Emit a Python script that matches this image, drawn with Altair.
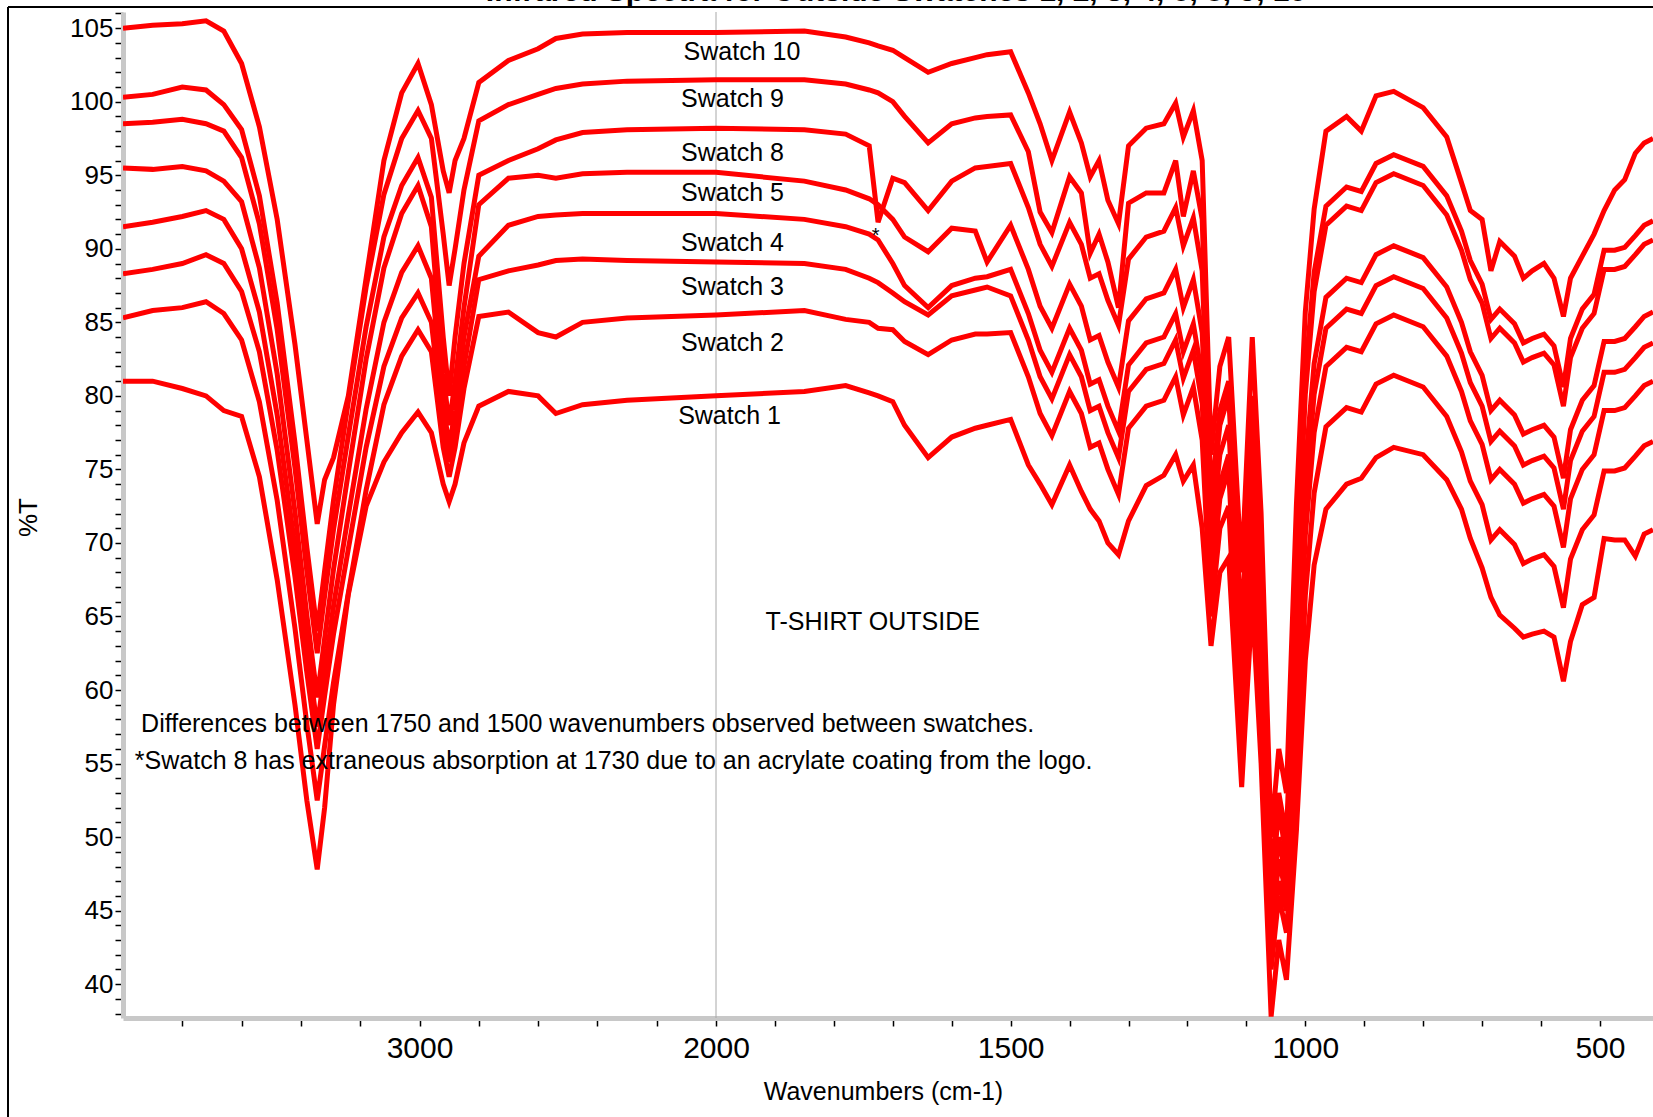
import altair as alt
import pandas as pd

# ---------------- data ----------------
WN = [4000, 3900, 3800, 3720, 3660, 3600, 3540, 3480, 3420, 3380,
      3345, 3320, 3290, 3240, 3180, 3120, 3060, 3005, 2960, 2920,
      2900, 2880, 2850, 2800, 2700, 2600, 2540, 2450, 2300, 2000,
      1850, 1780, 1740, 1725, 1700, 1680, 1640, 1600, 1560, 1540,
      1500, 1470, 1450, 1430, 1400, 1380, 1365, 1350, 1335, 1317,
      1300, 1270, 1240, 1220, 1207, 1190, 1175, 1160, 1145, 1130,
      1108, 1090, 1075, 1058, 1045, 1032, 1015, 1000, 985, 965,
      930, 905, 880, 850, 800, 760, 735, 720, 700, 685,
      670, 645, 630, 615, 595, 578, 562, 550, 530, 510,
      493, 475, 458, 440, 425, 410]

S10 = [105.0, 105.2, 105.3, 105.5, 104.8, 102.6, 98.3, 92.0, 83.5, 77.0,
       71.3, 74.3, 75.8, 80.0, 88.0, 96.0, 100.6, 102.6, 99.8, 95.3,
       93.8, 96.0, 97.5, 101.3, 102.8, 103.6, 104.3, 104.6, 104.7, 104.7,
       104.8, 104.4, 104.0, 103.8, 103.5, 103.0, 102.0, 102.6, 103.0, 103.2,
       103.4, 100.6, 98.5, 96.0, 99.3, 97.2, 94.9, 96.0, 93.3, 91.7,
       97.0, 98.2, 98.5, 99.9, 97.6, 99.4, 96.0, 76.0, 82.0, 84.0,
       68.0, 84.0, 72.0, 50.0, 56.0, 53.0, 72.7, 85.7, 92.7, 98.0,
       99.0, 98.0, 100.4, 100.7, 99.6, 97.6, 94.5, 92.6, 92.0, 88.5,
       90.5, 89.5, 88.0, 88.5, 89.0, 88.0, 85.4, 88.0, 89.5, 91.0,
       92.6, 94.0, 94.7, 96.5, 97.2, 97.5]

S9 = [100.3, 100.5, 101.0, 100.8, 99.8, 98.1, 93.6, 86.3, 76.8, 69.7,
      64.0, 68.1, 72.9, 79.6, 87.4, 93.7, 97.5, 99.4, 97.5, 91.0,
      87.5, 90.0, 94.0, 98.7, 99.8, 100.5, 100.9, 101.2, 101.4, 101.5,
      101.5, 101.2, 100.8, 100.6, 100.0, 99.0, 97.2, 98.5, 98.9, 99.0,
      99.1, 96.6, 92.5, 91.1, 94.9, 93.8, 89.7, 91.0, 89.1, 86.0,
      93.1, 93.8, 93.8, 96.0, 92.2, 95.3, 92.0, 73.0, 79.0, 81.0,
      64.0, 80.0, 68.0, 47.0, 53.0, 50.0, 68.4, 81.4, 88.4, 92.9,
      94.2, 93.9, 95.8, 96.4, 95.6, 93.6, 91.2, 89.2, 87.6, 85.2,
      85.9, 84.9, 83.6, 83.9, 84.2, 83.4, 80.6, 83.9, 85.9, 86.9,
      89.9, 89.9, 90.1, 90.9, 91.6, 91.9]

S8 = [98.5, 98.6, 98.8, 98.5, 98.0, 96.2, 91.7, 84.5, 75.1, 68.1,
      62.5, 66.4, 70.9, 77.3, 84.7, 90.8, 94.3, 96.2, 93.5, 84.0,
      80.0, 84.0, 89.0, 95.0, 96.0, 96.8, 97.4, 97.9, 98.1, 98.2,
      98.1, 97.8, 97.0, 91.8, 94.8, 94.5, 92.6, 94.6, 95.5, 95.6,
      95.8, 92.8, 90.3, 88.8, 91.8, 90.3, 88.0, 88.3, 86.5, 84.8,
      89.3, 90.8, 91.2, 92.8, 90.2, 92.1, 88.5, 72.0, 78.0, 80.0,
      63.0, 78.0, 66.0, 46.0, 52.0, 48.5, 67.1, 80.1, 87.1, 91.6,
      92.9, 92.6, 94.5, 95.1, 94.3, 92.3, 89.9, 87.9, 86.3, 83.9,
      84.6, 83.6, 82.3, 82.6, 82.9, 82.1, 79.3, 82.6, 84.6, 85.6,
      88.6, 88.6, 88.8, 89.6, 90.3, 90.6]

S5 = [95.5, 95.4, 95.6, 95.3, 94.6, 93.2, 88.7, 81.5, 72.1, 65.1,
      59.5, 63.5, 68.2, 74.8, 82.5, 88.7, 92.4, 94.3, 91.5, 81.5,
      78.0, 81.0, 86.0, 93.0, 94.8, 95.0, 94.8, 95.1, 95.2, 95.2,
      94.6, 94.0, 93.4, 93.0, 92.0, 90.8, 89.8, 91.4, 91.2, 89.1,
      91.6, 88.6, 86.1, 84.6, 87.6, 86.1, 83.8, 84.1, 82.3, 80.6,
      85.1, 86.6, 87.0, 88.6, 86.0, 87.9, 84.3, 70.0, 76.0, 78.0,
      61.0, 76.5, 64.0, 44.5, 50.0, 47.0, 62.2, 75.2, 82.2, 86.7,
      88.0, 87.7, 89.6, 90.2, 89.4, 87.4, 85.0, 83.0, 81.4, 79.0,
      79.7, 78.7, 77.4, 77.7, 78.0, 77.2, 74.4, 77.7, 79.7, 80.7,
      83.7, 83.7, 83.9, 84.7, 85.4, 85.7]

S4 = [91.5, 91.8, 92.2, 92.6, 92.0, 90.0, 85.7, 78.7, 69.7, 62.9,
      57.5, 61.3, 65.7, 71.9, 79.1, 85.0, 88.4, 90.2, 88.0, 79.5,
      76.5, 79.0, 84.0, 89.5, 91.6, 92.2, 92.3, 92.4, 92.4, 92.4,
      92.0, 91.5, 91.0, 90.6, 89.0, 87.5, 86.0, 87.5, 88.0, 88.1,
      88.6, 85.6, 83.1, 81.6, 84.6, 83.1, 80.8, 81.1, 79.3, 77.6,
      82.1, 83.6, 84.0, 85.6, 83.0, 84.9, 81.3, 68.0, 74.0, 76.0,
      59.0, 74.0, 62.0, 43.0, 48.5, 46.0, 60.1, 73.1, 80.1, 84.6,
      85.9, 85.6, 87.5, 88.1, 87.3, 85.3, 82.9, 80.9, 79.3, 76.9,
      77.6, 76.6, 75.3, 75.6, 75.9, 75.1, 72.3, 75.6, 77.6, 78.6,
      81.6, 81.6, 81.8, 82.6, 83.3, 83.6]

S3 = [88.3, 88.6, 89.0, 89.6, 89.0, 87.1, 83.0, 76.3, 67.7, 61.2,
      56.0, 59.6, 63.8, 69.6, 76.5, 82.0, 85.3, 87.0, 85.0, 78.0,
      75.5, 78.0, 82.0, 87.9, 88.5, 88.9, 89.2, 89.3, 89.2, 89.1,
      89.0, 88.6, 88.0, 87.7, 87.0, 86.4, 85.5, 86.8, 87.2, 87.4,
      86.8, 83.8, 81.3, 79.8, 82.8, 81.3, 79.0, 79.3, 77.5, 75.8,
      80.3, 81.8, 82.2, 83.8, 81.2, 83.1, 79.5, 67.0, 73.0, 75.0,
      57.0, 72.0, 60.0, 42.0, 47.0, 45.0, 57.5, 70.5, 77.5, 82.0,
      83.3, 83.0, 84.9, 85.5, 84.7, 82.7, 80.3, 78.3, 76.7, 74.3,
      75.0, 74.0, 72.7, 73.0, 73.3, 72.5, 69.7, 73.0, 75.0, 76.0,
      79.0, 79.0, 79.2, 80.0, 80.7, 81.0]

S2 = [85.3, 85.8, 86.0, 86.4, 85.6, 83.8, 79.6, 72.9, 64.2, 57.7,
      52.5, 56.2, 60.5, 66.6, 73.6, 79.4, 82.7, 84.5, 83.0, 76.5,
      74.5, 76.5, 80.5, 85.4, 85.7, 84.3, 84.0, 85.0, 85.3, 85.5,
      85.8, 85.2, 85.0, 84.6, 84.5, 83.7, 82.8, 83.8, 84.2, 84.2,
      84.3, 81.3, 78.8, 77.3, 80.3, 78.8, 76.5, 76.8, 75.0, 73.3,
      77.8, 79.3, 79.7, 81.3, 78.7, 80.6, 77.0, 65.0, 71.0, 72.5,
      55.5, 69.0, 58.0, 41.0, 46.0, 43.5, 53.4, 66.4, 73.4, 77.9,
      79.2, 78.9, 80.8, 81.4, 80.6, 78.6, 76.2, 74.2, 72.6, 70.2,
      70.9, 69.9, 68.6, 68.9, 69.2, 68.4, 65.6, 68.9, 70.9, 71.9,
      74.9, 74.9, 75.1, 75.9, 76.6, 76.9]

S1 = [81.0, 81.0, 80.5, 80.0, 79.0, 78.6, 74.5, 67.5, 59.0, 52.5,
      47.8, 52.0, 59.0, 66.5, 72.5, 75.5, 77.5, 78.9, 77.5, 74.0,
      72.8, 74.0, 76.8, 79.3, 80.3, 80.0, 78.8, 79.4, 79.7, 80.0,
      80.3, 80.7, 80.2, 80.0, 79.6, 78.0, 75.8, 77.2, 77.8, 78.0,
      78.4, 75.3, 74.0, 72.6, 75.3, 73.5, 72.3, 71.5, 70.0, 69.2,
      71.5, 73.9, 74.6, 76.0, 74.2, 75.3, 71.0, 63.0, 68.0, 69.0,
      53.4, 66.0, 55.0, 37.8, 43.0, 40.3, 50.5, 62.0, 68.5, 72.3,
      74.0, 74.4, 75.8, 76.5, 76.0, 74.3, 72.3, 70.3, 68.3, 66.3,
      65.1, 64.2, 63.6, 63.8, 64.0, 63.6, 60.6, 63.3, 65.8, 66.3,
      70.3, 70.2, 70.2, 69.1, 70.6, 70.9]

SERIES = {"Swatch 10": S10, "Swatch 9": S9, "Swatch 8": S8, "Swatch 5": S5,
          "Swatch 4": S4, "Swatch 3": S3, "Swatch 2": S2, "Swatch 1": S1}

LABELS = ["Swatch 10", "Swatch 9", "Swatch 8", "Swatch 5",
          "Swatch 4", "Swatch 3", "Swatch 2", "Swatch 1"]
LABEL_WN = [1956, 1972, 1972, 1972, 1972, 1972, 1972, 1977]
LABEL_T = [103.4, 100.2, 96.5, 93.8, 90.4, 87.4, 83.6, 78.6]

NOTES = ["Differences between 1750 and 1500 wavenumbers observed between swatches.",
         "*Swatch 8 has extraneous absorption at 1730 due to an acrylate coating from the logo."]
NOTES_WN = [3939, 3960]
NOTES_T = [57.7, 55.2]

X_TICKS = [3800, 3600, 3400, 3200, 3000, 2800, 2600, 2400, 2200, 2000,
           1900, 1800, 1700, 1600, 1500, 1400, 1300, 1200, 1100, 1000,
           900, 800, 700, 600, 500]
X_LABELED = [3000, 2000, 1500, 1000, 500]
Y_TICKS = list(range(38, 107))

TITLE = "Infrared Spectra for Outside Swatches 1, 2, 3, 4, 5, 8, 9, 10"

# ---------------- build tables ----------------
rows = []
for name, vals in SERIES.items():
    assert len(vals) == len(WN), (name, len(vals), len(WN))
    for w, v in zip(WN, vals):
        rows.append({"wn": w, "t": v, "s": name})
df = pd.DataFrame(rows)
lab_df = pd.DataFrame({"wn": LABEL_WN, "t": LABEL_T, "txt": LABELS})
note_df = pd.DataFrame({"wn": NOTES_WN, "t": NOTES_T, "txt": NOTES})
one = pd.DataFrame({"a": [0]})

W, H = 1530, 1006
FONT = "Liberation Sans, Arial, sans-serif"

xs = alt.Scale(domain=[4000, 2000, 410], range=[0, 593, W], nice=False, zero=False)
ys = alt.Scale(domain=[37.7, 106.1], nice=False, zero=False)

lab_expr_x = "indexof([" + ",".join(str(v) for v in X_LABELED) + "], datum.value) >= 0 ? datum.label : ''"

x_axis = alt.Axis(values=X_TICKS, labelExpr=lab_expr_x, format="d", grid=False,
                  tickSize=8, tickColor="black", tickWidth=1.5,
                  domainColor="#c8c8c8", domainWidth=5,
                  labelFont=FONT, labelFontSize=30, labelColor="black", labelPadding=7,
                  labelOverlap=False, labelFlush=False,
                  title="Wavenumbers (cm-1)", titleFont=FONT, titleFontSize=25,
                  titleFontWeight="normal", titleColor="black",
                  titleX=760, titleY=73, titleAlign="center", titleBaseline="middle")
y_axis = alt.Axis(values=Y_TICKS, labelExpr="datum.value % 5 === 0 ? datum.label : ''",
                  format="d", grid=False,
                  tickSize=8, tickColor="black", tickWidth=1.5,
                  domainColor="#c8c8c8", domainWidth=5,
                  labelFont=FONT, labelFontSize=26, labelColor="black", labelPadding=2,
                  labelOverlap=False, labelFlush=False,
                  title="%T", titleFont=FONT, titleFontSize=26, titleFontWeight="normal",
                  titleColor="black", titleAngle=270, titleX=-95, titleY=505,
                  titleAlign="center", titleBaseline="middle")

X = alt.X("wn:Q", scale=xs, axis=x_axis)
Y = alt.Y("t:Q", scale=ys, axis=y_axis)

vline = alt.Chart(pd.DataFrame({"wn": [2000]})).mark_rule(color="#a8a8a8", strokeWidth=1).encode(x=X)

lines = alt.Chart(df).mark_line(color="#ff0000", strokeWidth=5, clip=True).encode(
    x=X, y=Y,
    detail="s:N",
    order=alt.Order("wn:Q", sort="descending"),
)

labels = alt.Chart(lab_df).mark_text(font=FONT, fontSize=25, color="black",
                                     align="center", baseline="middle").encode(
    x=X, y=Y, text="txt:N")

notes = alt.Chart(note_df).mark_text(font=FONT, fontSize=25, color="black",
                                     align="left", baseline="middle").encode(
    x=X, y=Y, text="txt:N")

tshirt = alt.Chart(pd.DataFrame({"wn": [1734], "t": [64.6], "txt": ["T-SHIRT OUTSIDE"]})).mark_text(
    font=FONT, fontSize=25, color="black", align="center", baseline="middle").encode(
    x=X, y=Y, text="txt:N")

star = alt.Chart(pd.DataFrame({"wn": [1729], "t": [90.9], "txt": ["*"]})).mark_text(
    font=FONT, fontSize=20, color="black", align="center", baseline="middle").encode(
    x=X, y=Y, text="txt:N")

title = alt.Chart(one).mark_text(text=TITLE, font=FONT, fontSize=30, fontWeight="bold",
                                 color="black", align="center", baseline="alphabetic").encode(
    x=alt.value(773), y=alt.value(-11))

frame_left = alt.Chart(one).mark_rule(color="black", strokeWidth=2).encode(
    x=alt.value(-115), y=alt.value(-5), y2=alt.value(H + 200))
frame_top = alt.Chart(one).mark_rule(color="black", strokeWidth=2).encode(
    x=alt.value(-115), x2=alt.value(W + 50), y=alt.value(-5))

chart = alt.layer(vline, lines, labels, notes, tshirt, star, title, frame_left, frame_top).properties(
    width=W, height=H,
    autosize=alt.AutoSizeParams(type="none"),
    padding={"left": 123, "top": 12, "right": 0, "bottom": 99},
    background="white",
).configure_view(stroke="transparent")

chart.save("out.html", embed_options={"renderer": "svg", "actions": False})
